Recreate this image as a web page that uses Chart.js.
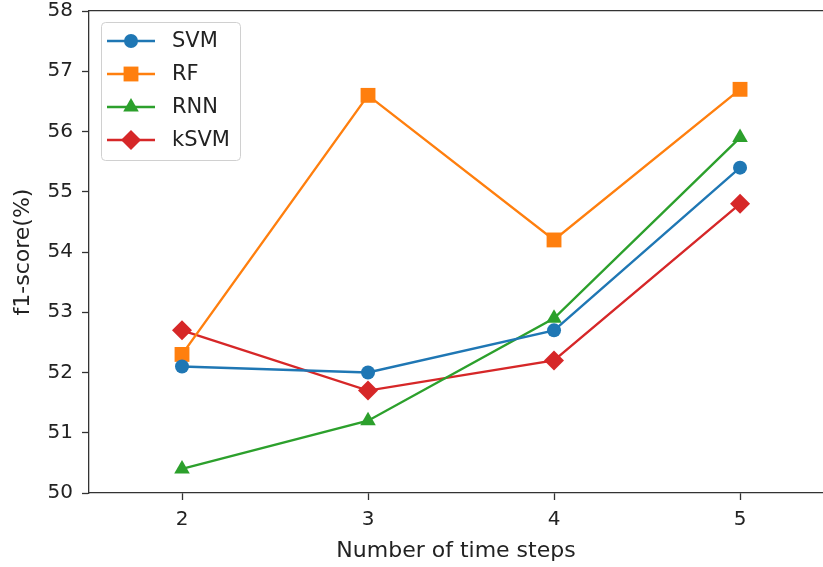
<!DOCTYPE html>
<html>
<head>
<meta charset="utf-8">
<script src="https://cdn.jsdelivr.net/npm/chart.js@4/dist/chart.umd.min.js"></script>
<style>
    body { margin: 0; background: #fff; overflow: hidden; }
</style>
</head>
<body>
<canvas id="scores" width="823" height="567"></canvas>
<script>
// f1-score per number of time steps
const steps = [2, 3, 4, 5];
const svm  = [52.1, 52.0, 52.7, 55.4];
const rf   = [52.3, 56.6, 54.2, 56.7];
const rnn  = [50.4, 51.2, 52.9, 55.9];
const ksvm = [52.7, 51.7, 52.2, 54.8];
const yTicks = [50, 51, 52, 53, 54, 55, 56, 57, 58];

const font = 'DejaVu Sans';

function series(label, values, color, style, radius, rotation) {
    return {
        label: label,
        data: steps.map((s, i) => ({x: s, y: values[i]})),
        borderColor: color,
        backgroundColor: color,
        borderWidth: 2.4,
        pointStyle: style,
        pointRadius: radius,
        pointRotation: rotation || 0,
        pointBorderWidth: 0,
        pointBackgroundColor: color,
        tension: 0
    };
}

// keep the plot box where it is, tick labels may hang over the edges
function noEdgePadding(axis) {
    axis.paddingTop = 0;
    axis.paddingBottom = 0;
    axis.paddingLeft = 0;
    axis.paddingRight = 0;
}

// legend in a framed box, line + marker like the plotted series
const boxLegend = {
    id: 'boxLegend',
    afterDraw(chart) {
        const ctx = chart.ctx;
        ctx.save();
        ctx.fillStyle = 'rgba(255,255,255,0.85)';
        ctx.strokeStyle = '#d0d0d0';
        ctx.lineWidth = 1;
        ctx.beginPath();
        ctx.roundRect(101.5, 22.5, 139, 138, 4);
        ctx.fill();
        ctx.stroke();

        chart.data.datasets.forEach((ds, i) => {
            const y = 41 + i * 33;
            ctx.strokeStyle = ds.borderColor;
            ctx.lineWidth = ds.borderWidth;
            ctx.beginPath();
            ctx.moveTo(107, y);
            ctx.lineTo(155, y);
            ctx.stroke();

            ctx.fillStyle = ds.borderColor;
            Chart.helpers.drawPoint(ctx, {
                pointStyle: ds.pointStyle,
                radius: ds.pointRadius,
                rotation: ds.pointRotation,
                borderWidth: 0
            }, 131, y);

            ctx.fillStyle = '#222';
            ctx.font = '21px "' + font + '"';
            ctx.textBaseline = 'middle';
            ctx.textAlign = 'left';
            ctx.fillText(ds.label, 172, y + 1);
        });
        ctx.restore();
    }
};

let scores = document.getElementById('scores').getContext('2d');

new Chart(scores, {
    type: 'line',

    data: {
        datasets: [
            series('SVM', svm, '#1f77b4', 'circle', 7),
            series('RF', rf, '#ff7f0e', 'rect', 10.5),
            series('RNN', rnn, '#2ca02c', 'triangle', 9),
            series('kSVM', ksvm, '#d62728', 'rectRot', 10)
        ]
    },

    options: {
        responsive: false,
        animation: false,
        events: [],
        layout: {autoPadding: false, padding: {top: 11, right: 0, left: 0, bottom: 0}},
        plugins: {
            legend: {display: false},
            tooltip: {enabled: false}
        },
        scales: {
            x: {
                type: 'linear',
                min: 1.5,
                max: 5.446,
                afterBuildTicks: axis => { axis.ticks = steps.map(v => ({value: v})); },
                afterFit: axis => { axis.height = 74; noEdgePadding(axis); },
                grid: {drawOnChartArea: false, drawTicks: true, tickLength: 7, tickColor: '#333', tickWidth: 1.3},
                border: {display: true, color: '#333', width: 1.3},
                ticks: {color: '#222', font: {family: font, size: 20}, padding: 8, maxRotation: 0},
                title: {display: true, text: 'Number of time steps', color: '#222',
                        font: {family: font, size: 22}, padding: {top: 0, bottom: 3}}
            },
            top: {
                type: 'linear',
                position: 'top',
                min: 1.5,
                max: 5.446,
                afterBuildTicks: axis => { axis.ticks = []; },
                afterFit: axis => { axis.height = 0; noEdgePadding(axis); },
                grid: {display: false},
                ticks: {display: false},
                border: {display: true, color: '#333', width: 1.3}
            },
            y: {
                min: 50,
                max: 58,
                afterBuildTicks: axis => { axis.ticks = yTicks.map(v => ({value: v})); },
                afterFit: axis => { axis.width = 89; noEdgePadding(axis); },
                grid: {drawOnChartArea: false, drawTicks: true, tickLength: 7, tickColor: '#333', tickWidth: 1.3},
                border: {display: true, color: '#333', width: 1.3},
                ticks: {color: '#222', font: {family: font, size: 20}, padding: 9},
                title: {display: true, text: 'f1-score(%)', color: '#222',
                        font: {family: font, size: 22}, padding: {top: 10, bottom: 0}}
            }
        }
    },

    plugins: [boxLegend]
});
</script>
</body>
</html>
